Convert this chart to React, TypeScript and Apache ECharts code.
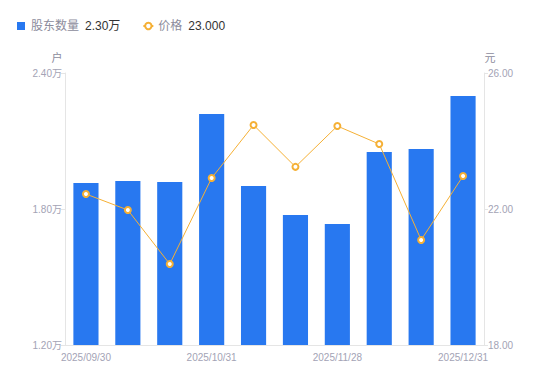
import React, { useEffect, useRef } from "react";
import * as echarts from "echarts";

const categories = [
  "2025/09/30", "2025/10/10", "2025/10/20", "2025/10/31", "2025/11/10",
  "2025/11/20", "2025/11/28", "2025/12/10", "2025/12/19", "2025/12/31",
];
const holders = [1.915, 1.923, 1.919, 2.219, 1.901, 1.773, 1.734, 2.051, 2.065, 2.298];
const prices = [22.44, 21.97, 20.38, 22.91, 24.47, 23.24, 24.44, 23.91, 21.09, 22.97];
const holderLatest = "2.30万";
const priceLatest = "23.000";

export default function App() {
  const ref = useRef<HTMLDivElement>(null);
  useEffect(() => {
    if (!ref.current) return;
    const chart = echarts.init(ref.current, undefined, { renderer: "svg" });
    const axisColor = "#a3a3b5";
    chart.setOption({
      animation: false,
      textStyle: { fontFamily: "Liberation Sans, Noto Sans CJK SC, sans-serif" },
      legend: {
        left: 12,
        top: 15,
        itemWidth: 10,
        itemHeight: 8,
        itemGap: 22,
        data: [
          { name: "股东数量", icon: "path://M0,0h10v10h-10z" },
          { name: "价格" },
        ],
        formatter: (name: string) =>
          name === "股东数量"
            ? `{a|${name}}{b|${holderLatest}}`
            : `{a|${name}}{b|${priceLatest}}`,
        textStyle: {
          rich: {
            a: { color: "#8c8c9c", fontSize: 12, padding: [0, 6, 0, 0] },
            b: { color: "#333333", fontSize: 12 },
          },
        },
      },
      grid: { left: 65, right: 66, top: 73, bottom: 36 },
      xAxis: {
        type: "category",
        data: categories,
        axisLine: { lineStyle: { color: "#e5e5e5" } },
        axisTick: { show: false },
        axisLabel: {
          color: axisColor,
          fontSize: 10,
          interval: 2,
          margin: 7,
        },
      },
      yAxis: [
        {
          type: "value",
          name: "户",
          min: 1.2,
          max: 2.4,
          interval: 0.6,
          nameTextStyle: { color: "#8c8c9c", fontSize: 11, padding: [0, 16, 0, 0] },
          nameGap: 10,
          axisLine: { show: true, lineStyle: { color: "#e5e5e5" } },
          axisTick: { show: true, length: 4, lineStyle: { color: "#e5e5e5" } },
          splitLine: { show: false },
          axisLabel: {
            color: axisColor,
            fontSize: 10,
            margin: 3,
            formatter: (v: number) => v.toFixed(2) + "万",
          },
        },
        {
          type: "value",
          name: "元",
          min: 18,
          max: 26,
          interval: 4,
          nameTextStyle: { color: "#8c8c9c", fontSize: 11, padding: [0, 0, 0, 12] },
          nameGap: 10,
          axisLine: { show: true, lineStyle: { color: "#e5e5e5" } },
          axisTick: { show: true, length: 4, lineStyle: { color: "#e5e5e5" } },
          splitLine: { show: false },
          axisLabel: {
            color: axisColor,
            fontSize: 10,
            margin: 4,
            formatter: (v: number) => v.toFixed(2),
          },
        },
      ],
      series: [
        {
          name: "股东数量",
          type: "bar",
          data: holders,
          barWidth: "60%",
          itemStyle: { color: "#2878f0" },
        },
        {
          name: "价格",
          type: "line",
          yAxisIndex: 1,
          data: prices,
          symbol: "emptyCircle",
          symbolSize: 6,
          lineStyle: { color: "#f5b035", width: 1 },
          itemStyle: { color: "#f5b035", borderWidth: 1.5 },
        },
      ],
    });
    return () => chart.dispose();
  }, []);
  return (
    <div
      ref={ref}
      style={{ position: "absolute", left: 0, top: 0, width: 550, height: 381 }}
    />
  );
}
